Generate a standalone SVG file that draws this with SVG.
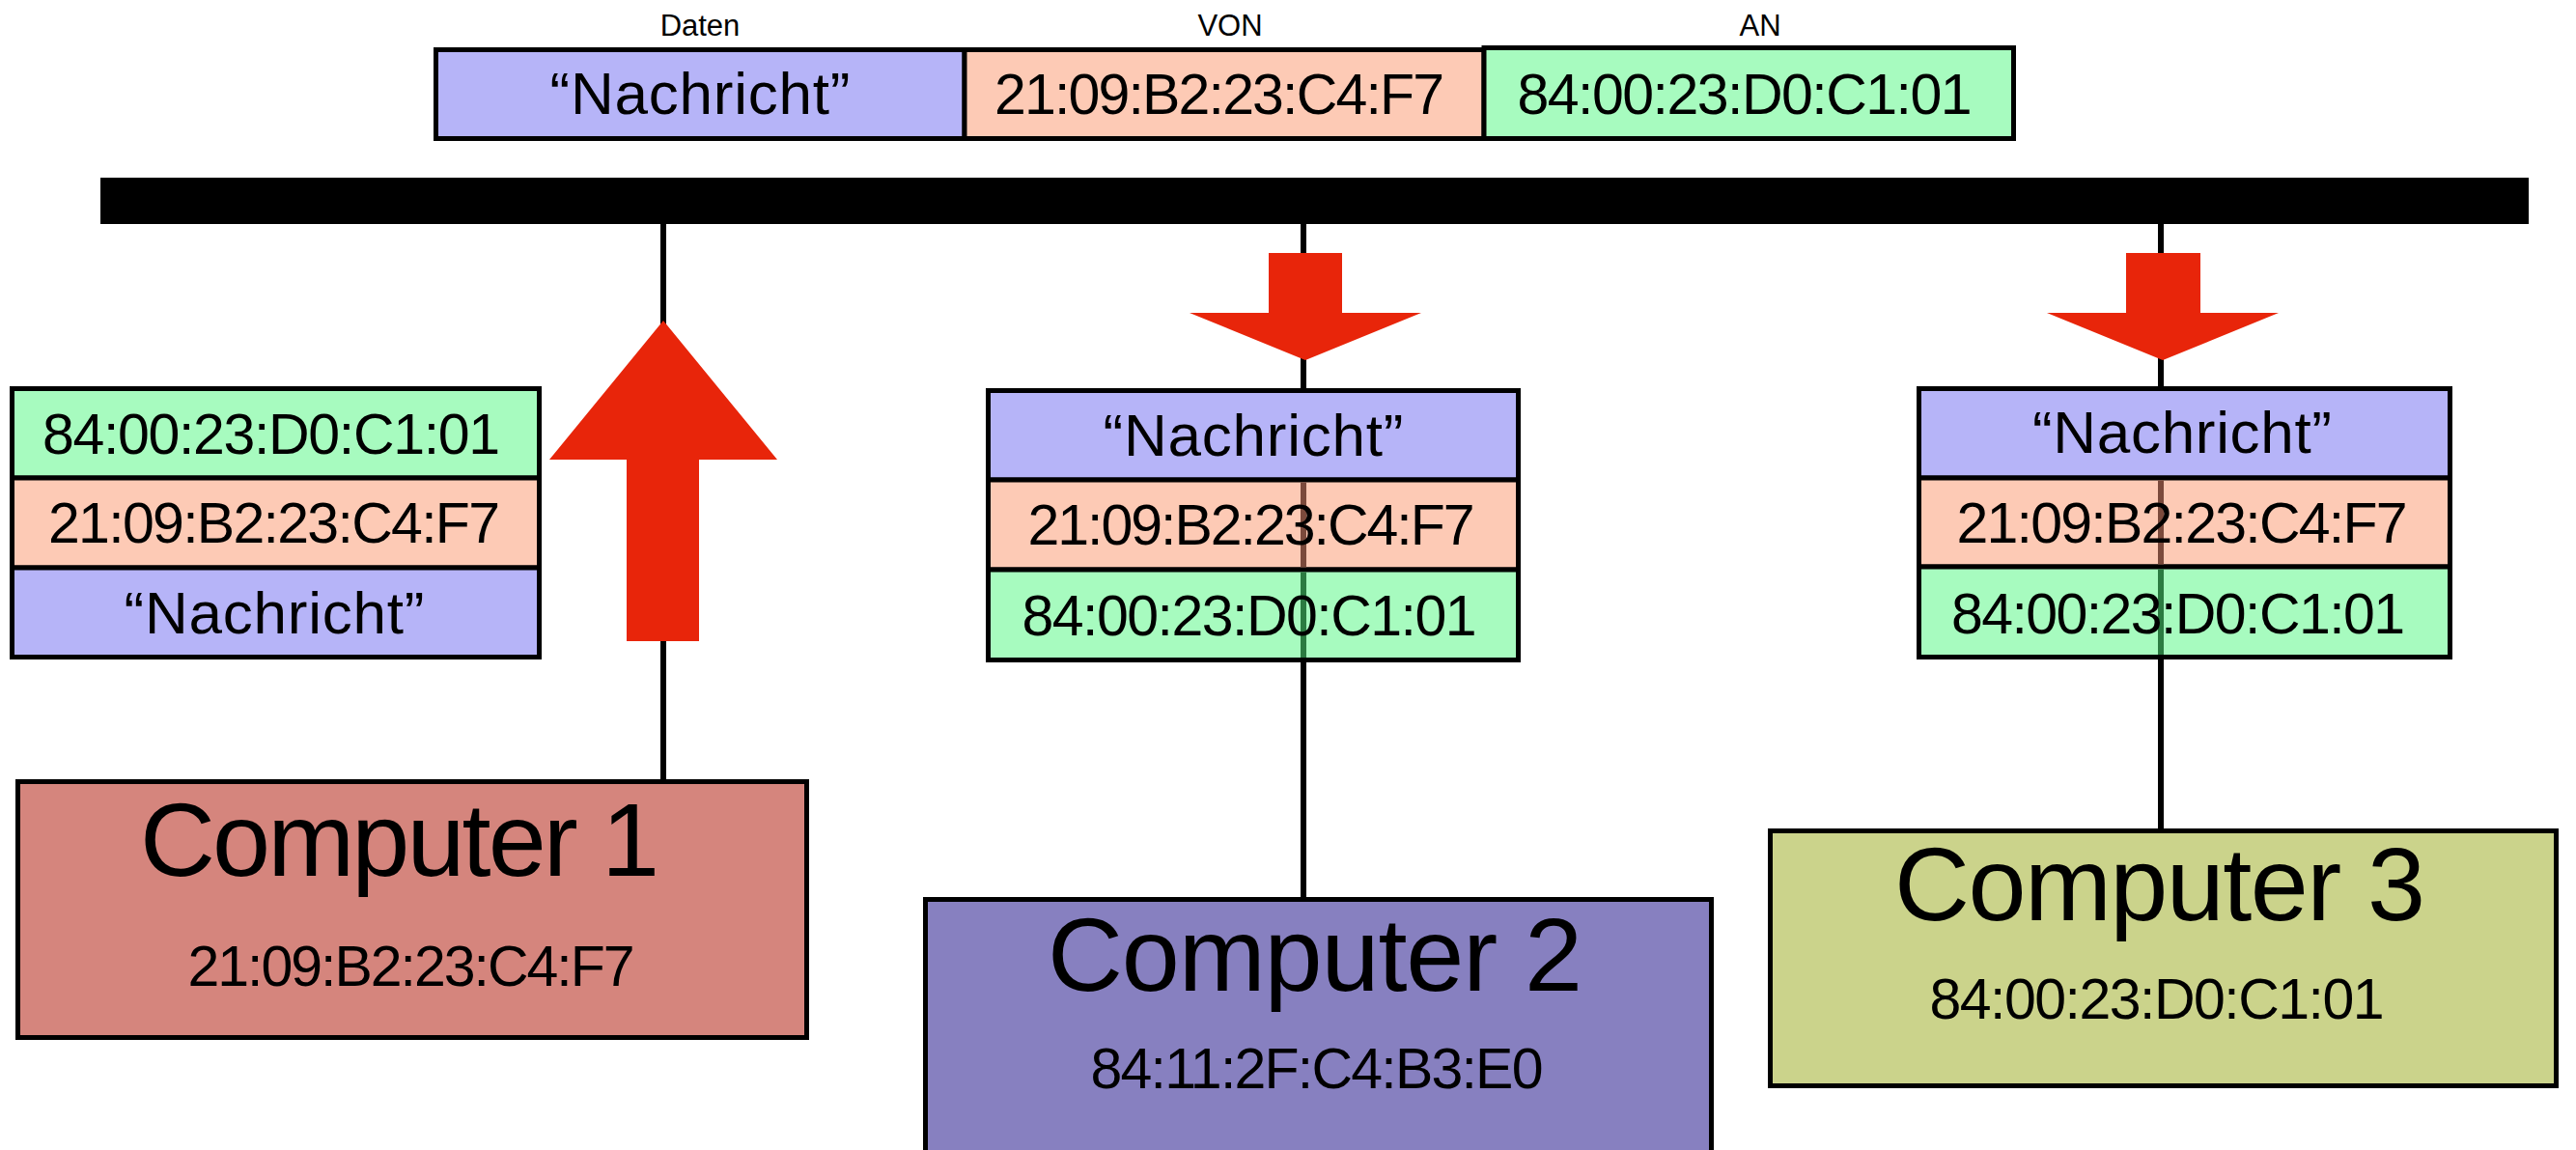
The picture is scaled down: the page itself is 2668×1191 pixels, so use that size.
<svg xmlns="http://www.w3.org/2000/svg" width="2668" height="1191" viewBox="0 0 2668 1191">
  <style>
    .box { stroke: #000; stroke-width: 5; }
    .data { fill: #b6b4f8; }
    .src { fill: #fdcab5; }
    .dst { fill: #a7fbbf; }
    .wire { stroke: #000; stroke-width: 6; fill: none; }
    .arrow { fill: #e8250a; }
    text { font-family: "Liberation Sans", Arial, sans-serif; fill: #000; text-anchor: middle; }
    .hdr { font-size: 31px; }
    .cell { font-size: 59px; }
    .msg { font-size: 62px; }
    .title { font-size: 108px; }
  </style>

  <!-- bus -->
  <rect id="bus" x="104" y="184" width="2515" height="48" fill="#000"/>

  <!-- frame layout at the top -->
  <g id="frame">
    <text class="hdr" x="725" y="37">Daten</text>
    <text class="hdr" x="1274" y="37">VON</text>
    <text class="hdr" x="1823" y="37">AN</text>
    <rect class="box data" x="451.5" y="51.5" width="547.5" height="92"/>
    <rect class="box src" x="999" y="51.5" width="538" height="92"/>
    <rect class="box dst" x="1537" y="49.5" width="548.5" height="94"/>
    <text class="msg" x="725" y="118" textLength="311">“Nachricht”</text>
    <text class="cell" x="1263" y="118" textLength="466">21:09:B2:23:C4:F7</text>
    <text class="cell" x="1807" y="118" textLength="471">84:00:23:D0:C1:01</text>
  </g>

  <!-- connectors -->
  <g id="connectors">
    <line class="wire" x1="687" y1="232" x2="687" y2="808"/>
    <line class="wire" x1="1350" y1="232" x2="1350" y2="930"/>
    <line class="wire" x1="2238" y1="232" x2="2238" y2="859"/>
    <polygon id="arrow-up-1" class="arrow" points="687,332 805,476 724,476 724,664 649,664 649,476 569,476"/>
    <polygon id="arrow-down-2" class="arrow" points="1314,262 1390,262 1390,324 1472,324 1352,373 1232,324 1314,324"/>
    <polygon id="arrow-down-3" class="arrow" points="2202,262 2279,262 2279,324 2360,324 2240,373 2120,324 2202,324"/>
  </g>

  <!-- frame leaving computer 1 -->
  <g id="stack-1">
    <rect class="box dst" x="12.5" y="402.5" width="546" height="92.5"/>
    <rect class="box src" x="12.5" y="495" width="546" height="93"/>
    <rect class="box data" x="12.5" y="588" width="546" height="92.5"/>
    <text class="cell" x="281" y="470" textLength="474">84:00:23:D0:C1:01</text>
    <text class="cell" x="284" y="562" textLength="468">21:09:B2:23:C4:F7</text>
    <text class="msg" x="284" y="656" textLength="311">“Nachricht”</text>
  </g>

  <!-- frame arriving at computer 2 -->
  <g id="stack-2">
    <rect class="box data" x="1023.5" y="404.5" width="549" height="92.5"/>
    <rect class="box src" x="1023.5" y="497" width="549" height="93"/>
    <rect class="box dst" x="1023.5" y="590" width="549" height="93.5"/>
    <line x1="1350" y1="499.5" x2="1350" y2="587.5" stroke="#7b4a3c" stroke-width="6"/>
    <line x1="1350" y1="592.5" x2="1350" y2="681" stroke="#2b7b41" stroke-width="6"/>
    <text class="msg" x="1298" y="472" textLength="311">“Nachricht”</text>
    <text class="cell" x="1296" y="564" textLength="463">21:09:B2:23:C4:F7</text>
    <text class="cell" x="1294" y="658" textLength="471">84:00:23:D0:C1:01</text>
  </g>

  <!-- frame arriving at computer 3 -->
  <g id="stack-3">
    <rect class="box data" x="1987.5" y="402.5" width="550" height="92.5"/>
    <rect class="box src" x="1987.5" y="495" width="550" height="92"/>
    <rect class="box dst" x="1987.5" y="587" width="550" height="93.5"/>
    <line x1="2238" y1="497.5" x2="2238" y2="584.5" stroke="#7b4a3c" stroke-width="6"/>
    <line x1="2238" y1="589.5" x2="2238" y2="678" stroke="#2b7b41" stroke-width="6"/>
    <text class="msg" x="2260" y="469" textLength="310">“Nachricht”</text>
    <text class="cell" x="2260" y="562" textLength="467">21:09:B2:23:C4:F7</text>
    <text class="cell" x="2256" y="656" textLength="470">84:00:23:D0:C1:01</text>
  </g>

  <!-- computers -->
  <g id="computer-1">
    <rect class="box" x="18.5" y="809.5" width="817" height="265" fill="#d5857d"/>
    <text class="title" x="414" y="907" textLength="538">Computer 1</text>
    <text class="cell" x="426" y="1021" textLength="463">21:09:B2:23:C4:F7</text>
  </g>
  <g id="computer-2">
    <rect class="box" x="958.5" y="931.5" width="814" height="280" fill="#8780c0"/>
    <text class="title" x="1362" y="1026" textLength="554">Computer 2</text>
    <text class="cell" x="1364" y="1127" textLength="469">84:11:2F:C4:B3:E0</text>
  </g>
  <g id="computer-3">
    <rect class="box" x="1833.5" y="860.5" width="814" height="264" fill="#cbd38b"/>
    <text class="title" x="2237" y="953" textLength="550">Computer 3</text>
    <text class="cell" x="2234" y="1055" textLength="471">84:00:23:D0:C1:01</text>
  </g>
</svg>
